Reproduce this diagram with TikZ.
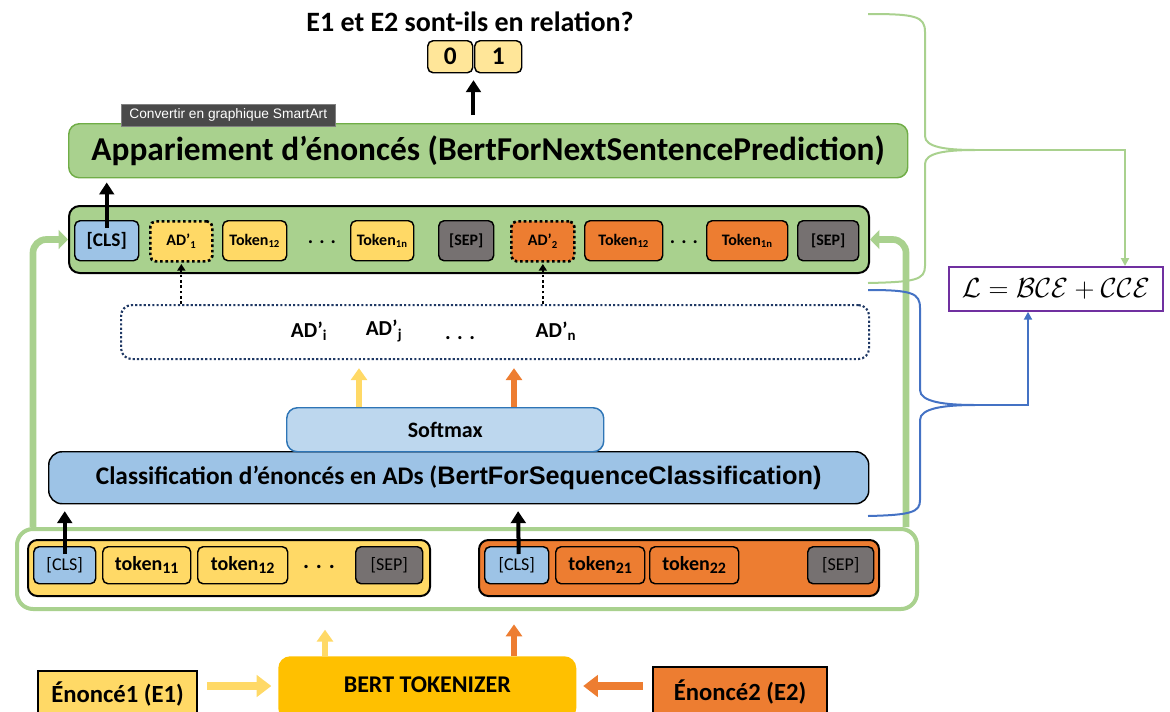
\documentclass[tikz,border=0pt]{standalone}
\usepackage{fontspec}
\setmainfont{Carlito}
\newfontfamily\arialf{Liberation Sans}
\usetikzlibrary{arrows.meta,calc}
\definecolor{lgreen}{HTML}{A9D18E}
\definecolor{dgreen}{HTML}{70AD47}
\definecolor{cblue}{HTML}{9DC3E6}
\definecolor{lblue}{HTML}{BDD7EE}
\definecolor{dblue}{HTML}{2E75B6}
\definecolor{cyellow}{HTML}{FFD966}
\definecolor{pyellow}{HTML}{FFE699}
\definecolor{corange}{HTML}{ED7D31}
\definecolor{cgray}{HTML}{767171}
\definecolor{cgold}{HTML}{FFC000}
\definecolor{cnavy}{HTML}{1F3864}
\definecolor{cpurple}{HTML}{7030A0}
\definecolor{bblue}{HTML}{4472C4}
\definecolor{tipgray}{HTML}{4A4A4A}
\newcommand\pxu{*0.75pt}
\newcommand\fsz[1]{\fontsize{#1}{#1}\selectfont}
\newcommand\sbb[1]{\raisebox{-0.35ex}{\fsz{12}#1}}
\begin{document}
\begin{tikzpicture}[x=0.75pt,y=-0.75pt,
  every node/.style={font=\bfseries},
  bx/.style={draw=black, line width=1.1pt, rounded corners=4pt, inner sep=0pt, anchor=north west, align=center},
  adbox/.style={bx, line width=2pt, dash pattern=on 2pt off 2pt},
  blk/.style={line width=3pt, -{Triangle[length=9pt,width=11pt]}},
  dotarr/.style={line width=1.3pt, dash pattern=on 2pt off 2pt, -{Triangle[length=5pt,width=6pt]}},
  yarr/.style={draw=cyellow, line width=4.5pt, -{Triangle[length=9pt,width=12pt]}},
  oarr/.style={draw=corange, line width=4.5pt, -{Triangle[length=9pt,width=12pt]}},
  garr/.style={draw=lgreen, line width=5pt, rounded corners=10pt, -{Triangle[length=7pt,width=14pt]}},
  gbrace/.style={draw=lgreen, line width=1.5pt},
  bbrace/.style={draw=bblue, line width=1.5pt},
]
\path[use as bounding box] (0,0) rectangle (1170,711);

% title and output
\node[font=\bfseries\fsz{21}] (title) at (470,22) {E1 et E2 sont-ils en relation?};
\node[bx, fill=pyellow, minimum width=45\pxu, minimum height=32\pxu, font=\bfseries\fsz{19}] (o0) at (427,40) {0};
\node[bx, fill=pyellow, minimum width=47\pxu, minimum height=32\pxu, font=\bfseries\fsz{19}] (o1) at (474,40) {1};

% NSP box
\node[bx, fill=lgreen, draw=dgreen, rounded corners=8pt, minimum width=839\pxu, minimum height=54\pxu, font=\bfseries\fsz{25}] (app) at (68,123) {Appariement d’énoncés (BertForNextSentencePrediction)};
\node[anchor=north west, fill=tipgray, draw=gray, inner sep=0pt, minimum width=214\pxu, minimum height=22\pxu, text=white, font=\arialf\fsz{10.3}] (tip) at (121,104) {Convertir en graphique SmartArt};
\draw[blk, shorten <=6pt, shorten >=5pt] (app.north -| o0.south east) -- (o0.south east);

% token row
\node[bx, fill=lgreen, rounded corners=8pt, line width=1.5pt, minimum width=800\pxu, minimum height=67\pxu] (row) at (68,205) {};
\begin{scope}[every node/.append style={font=\bfseries\fsz{12}}]
\node[bx, fill=cblue, minimum width=64\pxu, minimum height=40\pxu, font=\bfseries\fsz{14.5}] (cls1) at (74,220) {[CLS]};
\node[adbox, fill=cyellow, minimum width=62\pxu, minimum height=40\pxu] (ad1) at (149,220) {AD’\textsubscript{1}};
\node[bx, fill=cyellow, minimum width=64\pxu, minimum height=40\pxu] (t12a) at (222,220) {Token\textsubscript{12}};
\node[font=\bfseries\fsz{15}] (dta) at (322,242) {. . .};
\node[bx, fill=cyellow, minimum width=63\pxu, minimum height=40\pxu] (t1na) at (350,220) {Token\textsubscript{1n}};
\node[bx, fill=cgray, minimum width=55\pxu, minimum height=40\pxu] (sep1) at (438,220) {[SEP]};
\node[adbox, fill=corange, minimum width=63\pxu, minimum height=40\pxu] (ad2) at (510,220) {AD’\textsubscript{2}};
\node[bx, fill=corange, minimum width=78\pxu, minimum height=40\pxu] (t12b) at (584,220) {Token\textsubscript{12}};
\node[font=\bfseries\fsz{15}] (dtb) at (684,242) {. . .};
\node[bx, fill=corange, minimum width=81\pxu, minimum height=40\pxu] (t1nb) at (706,220) {Token\textsubscript{1n}};
\node[bx, fill=cgray, minimum width=61\pxu, minimum height=40\pxu] (sep2) at (797,220) {[SEP]};
\end{scope}
\draw[blk, shorten >=3pt] ($(cls1.north)+(0,8)$) -- (app.south -| cls1.north);

% AD' box
\node[bx, draw=cnavy, line width=1.6pt, dash pattern=on 1.6pt off 1.6pt, rounded corners=8pt, minimum width=748\pxu, minimum height=54\pxu] (ads) at (120,304) {};
\begin{scope}[every node/.append style={font=\bfseries\fsz{16}}]
\node (adi) at (309,331) {AD’\textsubscript{i}};
\node (adj) at (384,331) {AD’\textsubscript{j}};
\node (add) at (460,338) {. . .};
\node (adn) at (556,331) {AD’\textsubscript{n}};
\end{scope}
\draw[dotarr, shorten >=1pt] (ads.north -| ad1.south) -- (ad1.south);
\draw[dotarr, shorten >=1pt] (ads.north -| ad2.south) -- (ad2.south);

% classification + softmax
\node[bx, fill=cblue, rounded corners=10pt, minimum width=820\pxu, minimum height=52\pxu] (cls) at (48,451) {\fsz{19}Classification d’énoncés en ADs (\arialf\fsz{19}BertForSequenceClassification)};
\node[bx, fill=lblue, draw=dblue, rounded corners=8pt, minimum width=317\pxu, minimum height=44\pxu, font=\bfseries\fsz{16.5}] (soft) at (286,407) {Softmax};
\draw[yarr, shorten >=6pt] (soft.north -| 359,0) -- (ads.south -| 359,0);
\draw[oarr, shorten >=6pt] (soft.north -| 514,0) -- (ads.south -| 514,0);

% bottom token group
\node[bx, draw=lgreen, line width=3pt, rounded corners=12pt, minimum width=900\pxu, minimum height=80\pxu] (bot) at (15,527) {};
\node[bx, fill=cyellow, rounded corners=7pt, line width=1.5pt, minimum width=402\pxu, minimum height=56\pxu] (g1) at (27,539) {};
\node[bx, fill=corange, rounded corners=7pt, line width=1.5pt, minimum width=400\pxu, minimum height=56\pxu] (g2) at (478,539) {};
\begin{scope}[every node/.append style={font=\bfseries\fsz{15}}]
\node[bx, fill=cblue, minimum width=62\pxu, minimum height=37\pxu, font=\mdseries\fsz{13.5}] (bcls1) at (33,546) {[CLS]};
\node[bx, fill=cyellow, minimum width=88\pxu, minimum height=37\pxu] (tok11) at (102,546) {token\sbb{11}};
\node[bx, fill=cyellow, minimum width=90\pxu, minimum height=37\pxu] (tok12) at (197,546) {token\sbb{12}};
\node[font=\bfseries\fsz{17}] (bdt) at (319,567) {. . .};
\node[bx, fill=cgray, minimum width=67\pxu, minimum height=37\pxu, font=\mdseries\fsz{13.5}] (bsep1) at (355,546) {[SEP]};
\node[bx, fill=cblue, minimum width=64\pxu, minimum height=37\pxu, font=\mdseries\fsz{13.5}] (bcls2) at (484,546) {[CLS]};
\node[bx, fill=corange, minimum width=89\pxu, minimum height=37\pxu] (tok21) at (555,546) {token\sbb{21}};
\node[bx, fill=corange, minimum width=89\pxu, minimum height=37\pxu] (tok22) at (649,546) {token\sbb{22}};
\node[bx, fill=cgray, minimum width=66\pxu, minimum height=37\pxu, font=\mdseries\fsz{13.5}] (bsep2) at (807,546) {[SEP]};
\end{scope}
\draw[blk, shorten >=5pt] ($(bcls1.north)+(0,8)$) -- (cls.south -| bcls1.north);
\draw[blk, shorten >=5pt] ($(bcls2.north)+(2,8)$) -- (cls.south -| 518,0);

% big green feedback arrows
\draw[garr] ($(bot.north west)+(18,0)$) |- (row.west);
\draw[garr] ($(bot.north east)+(-13,0)$) |- (row.east);

% tokenizer and inputs
\node[anchor=north west, fill=cgold, rounded corners=9pt, minimum width=298\pxu, minimum height=64\pxu, inner sep=0pt, font=\bfseries\fsz{18}] (tok) at (278,656) {\raisebox{6pt}{BERT TOKENIZER}};
\node[bx, fill=cyellow, rounded corners=0pt, line width=1.5pt, minimum width=159\pxu, minimum height=46\pxu, font=\bfseries\fsz{18.5}] (e1) at (37,670) {Énoncé1 (E1)};
\node[bx, fill=corange, rounded corners=0pt, line width=1.5pt, minimum width=174\pxu, minimum height=50\pxu, font=\bfseries\fsz{18.5}] (e2) at (652,666) {Énoncé2 (E2)};
\coordinate (tokmid) at ($(tok.north west)+(0,30)$);
\draw[yarr, line width=6pt, -{Triangle[length=11pt,width=16pt]}, shorten <=7pt, shorten >=5pt] (e1.east |- tokmid) -- (tokmid);
\draw[oarr, line width=6pt, -{Triangle[length=11pt,width=16pt]}, shorten <=7pt, shorten >=5pt] (e2.west |- tokmid) -- (tokmid -| tok.east);
\draw[yarr, shorten >=14pt] ($(tok.north west)+(47,0)$) -- ($(bot.south west)+(310,0)$);
\draw[oarr, shorten >=10pt] ($(tok.north west)+(236,0)$) -- ($(bot.south west)+(499,0)$);

% loss
\node[bx, draw=cpurple, rounded corners=0pt, line width=1.3pt, minimum width=214\pxu, minimum height=44\pxu, font=\fsz{21}] (loss) at (948,266) {$\mathcal{L} = \mathcal{BCE} + \mathcal{CCE}$};

% green brace
\coordinate (gtip) at (975,150);
\draw[gbrace] (868,14) .. controls (915,14) and (925,16) .. (925,32) -- (925,136) .. controls (925,147) and (945,150) .. (gtip) .. controls (945,150) and (925,153) .. (925,164) -- (925,266) .. controls (925,280) and (915,282) .. (868,283);
\draw[gbrace, -{Triangle[length=6pt,width=6pt]}] (gtip) -| ($(loss.north west)+(177,0)$);
% blue brace
\coordinate (btip) at (975,405);
\draw[bbrace] (868,290) .. controls (912,290) and (920,293) .. (920,308) -- (920,390) .. controls (920,402) and (945,405) .. (btip) .. controls (945,405) and (920,408) .. (920,420) -- (920,500) .. controls (920,512) and (912,515) .. (868,516);
\draw[bbrace, -{Triangle[length=6pt,width=6pt]}] (btip) -| ($(loss.south west)+(80,0)$);
\end{tikzpicture}
\end{document}
